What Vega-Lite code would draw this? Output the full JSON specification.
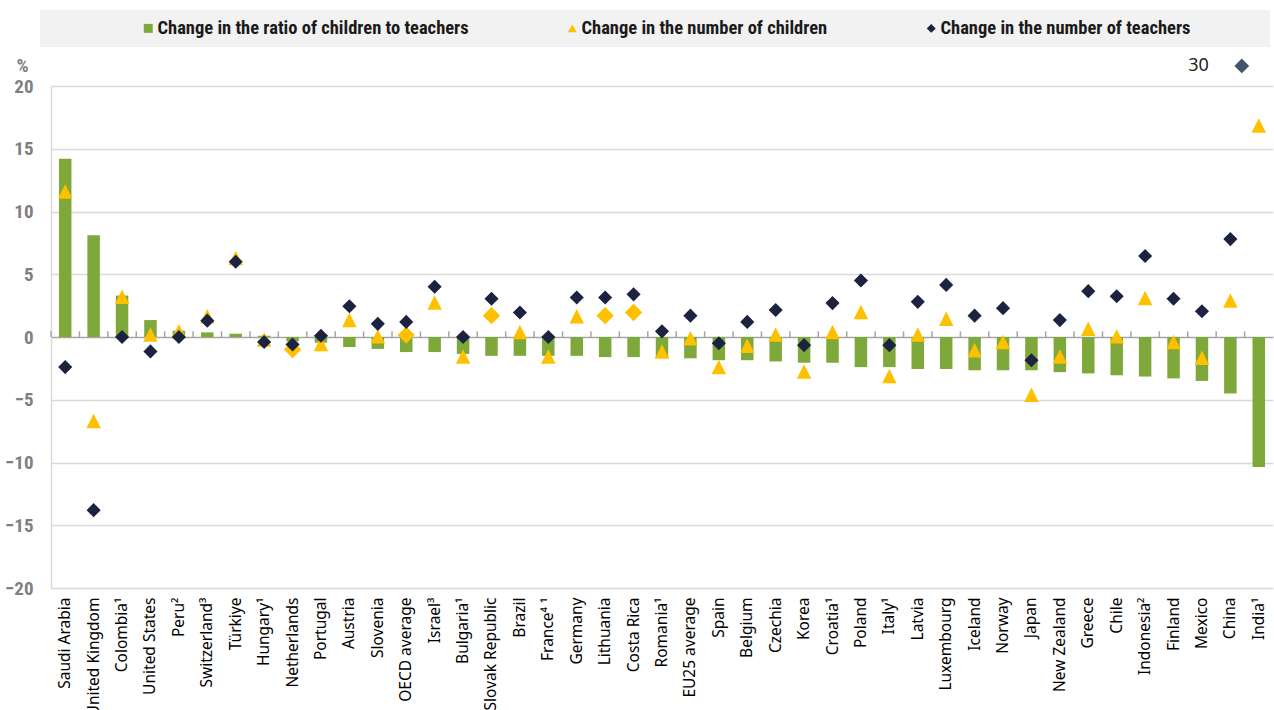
{
  "$schema": "https://vega.github.io/schema/vega-lite/v6.json",
  "width": 1222,
  "height": 502,
  "autosize": {"type": "none"},
  "padding": {"left": 51, "top": 86, "right": 1, "bottom": 122},
  "background": "white",
  "config": {
    "view": {"stroke": null},
    "axis": {"labelFont": "Noto Sans", "titleFont": "Roboto"}
  },
  "data": {
    "values": [
      {"country": "Saudi Arabia", "ratio": 14.2, "children": 11.6, "teachers": -2.4},
      {"country": "United Kingdom", "ratio": 8.1, "children": -6.7, "teachers": -13.8},
      {"country": "Colombia¹", "ratio": 3.3, "children": 3.2, "teachers": 0.0},
      {"country": "United States", "ratio": 1.35, "children": 0.2, "teachers": -1.15},
      {"country": "Peru²", "ratio": 0.5, "children": 0.45, "teachers": 0.0},
      {"country": "Switzerland³", "ratio": 0.37, "children": 1.65, "teachers": 1.3},
      {"country": "Türkiye", "ratio": 0.26, "children": 6.3, "teachers": 6.0},
      {"country": "Hungary¹", "ratio": 0.1, "children": -0.2, "teachers": -0.4},
      {"country": "Netherlands", "ratio": -0.35, "children": -1.0, "teachers": -0.6},
      {"country": "Portugal", "ratio": -0.45, "children": -0.55, "teachers": 0.1},
      {"country": "Austria", "ratio": -0.8, "children": 1.35, "teachers": 2.45},
      {"country": "Slovenia", "ratio": -0.95, "children": 0.05, "teachers": 1.05},
      {"country": "OECD average", "ratio": -1.2, "children": 0.15, "teachers": 1.2},
      {"country": "Israel³", "ratio": -1.2, "children": 2.75, "teachers": 4.0},
      {"country": "Bulgaria¹", "ratio": -1.35, "children": -1.55, "teachers": 0.0},
      {"country": "Slovak Republic", "ratio": -1.5, "children": 1.7, "teachers": 3.05},
      {"country": "Brazil", "ratio": -1.5, "children": 0.4, "teachers": 1.95},
      {"country": "France⁴ ¹", "ratio": -1.5, "children": -1.55, "teachers": 0.0},
      {"country": "Germany", "ratio": -1.5, "children": 1.65, "teachers": 3.15},
      {"country": "Lithuania", "ratio": -1.6, "children": 1.7, "teachers": 3.15},
      {"country": "Costa Rica", "ratio": -1.6, "children": 1.95, "teachers": 3.4},
      {"country": "Romania¹", "ratio": -1.65, "children": -1.15, "teachers": 0.45},
      {"country": "EU25 average", "ratio": -1.7, "children": -0.1, "teachers": 1.7},
      {"country": "Spain", "ratio": -1.85, "children": -2.4, "teachers": -0.5},
      {"country": "Belgium", "ratio": -1.85, "children": -0.7, "teachers": 1.2},
      {"country": "Czechia", "ratio": -1.95, "children": 0.2, "teachers": 2.15},
      {"country": "Korea", "ratio": -2.05, "children": -2.75, "teachers": -0.65},
      {"country": "Croatia¹", "ratio": -2.05, "children": 0.4, "teachers": 2.7},
      {"country": "Poland", "ratio": -2.4, "children": 2.0, "teachers": 4.5},
      {"country": "Italy¹", "ratio": -2.4, "children": -3.1, "teachers": -0.65},
      {"country": "Latvia", "ratio": -2.55, "children": 0.2, "teachers": 2.8},
      {"country": "Luxembourg", "ratio": -2.55, "children": 1.45, "teachers": 4.15},
      {"country": "Iceland", "ratio": -2.65, "children": -1.05, "teachers": 1.7},
      {"country": "Norway", "ratio": -2.65, "children": -0.4, "teachers": 2.3},
      {"country": "Japan", "ratio": -2.65, "children": -4.6, "teachers": -1.85},
      {"country": "New Zealand", "ratio": -2.8, "children": -1.55, "teachers": 1.35},
      {"country": "Greece", "ratio": -2.9, "children": 0.65, "teachers": 3.65},
      {"country": "Chile", "ratio": -3.05, "children": 0.05, "teachers": 3.25},
      {"country": "Indonesia²", "ratio": -3.15, "children": 3.1, "teachers": 6.45},
      {"country": "Finland", "ratio": -3.3, "children": -0.4, "teachers": 3.05},
      {"country": "Mexico", "ratio": -3.5, "children": -1.65, "teachers": 2.05},
      {"country": "China", "ratio": -4.5, "children": 2.9, "teachers": 7.8},
      {"country": "India¹", "ratio": -10.35, "children": 16.85, "teachers": 30}
    ]
  },
  "layer": [
    {
      "mark": {"type": "bar", "width": 12.5},
      "encoding": {
        "x": {
          "field": "country",
          "type": "nominal",
          "sort": null,
          "scale": {"paddingInner": 0, "paddingOuter": 0},
          "axis": {
            "title": null,
            "labelAngle": -90,
            "labelFontSize": 15.5,
            "labelColor": "#000000",
            "labelPadding": 9,
            "labelLimit": 200,
            "ticks": false,
            "domain": false,
            "grid": false
          }
        },
        "y": {
          "field": "ratio",
          "type": "quantitative",
          "scale": {"domain": [-20, 20], "nice": false, "zero": false},
          "axis": {
            "values": [-20, -15, -10, -5, 0, 5, 10, 15, 20],
            "title": "%",
            "titleAngle": 0,
            "titleX": -29,
            "titleY": -21,
            "titleAlign": "center",
            "titleBaseline": "middle",
            "titleFont": "Liberation Sans Narrow, Roboto Condensed, Roboto, sans-serif",
            "titleFontSize": 19,
            "titleFontWeight": "bold",
            "titleColor": "#7f7f7f",
            "labelFont": "Liberation Sans Narrow, Roboto Condensed, Roboto, sans-serif",
            "labelFontSize": 19,
            "labelFontWeight": "bold",
            "labelColor": "#7f7f7f",
            "labelPadding": 18,
            "ticks": false,
            "domain": true,
            "domainColor": "#d9d9d9",
            "domainWidth": 1.5,
            "grid": true,
            "gridColor": {"condition": {"test": "datum.value === 0", "value": "#a6a6a6"}, "value": "#d9d9d9"},
            "gridWidth": 1.5
          }
        },
        "color": {
          "datum": "Change in the ratio of children to teachers",
          "type": "nominal",
          "scale": {
            "domain": [
              "Change in the ratio of children to teachers",
              "Change in the number of children",
              "Change in the number of teachers"
            ],
            "range": ["#7fa83a", "#ffc000", "#1c2340"]
          },
          "legend": {
            "orient": "none",
            "legendX": -11,
            "legendY": -76,
            "direction": "horizontal",
            "fillColor": "#f2f2f2",
            "padding": 9,
            "title": "\u00a0",
            "titleOrient": "left",
            "titlePadding": 90,
            "titleFontSize": 16,
            "labelFont": "Liberation Sans Narrow, Roboto Condensed, Roboto, sans-serif",
            "labelFontSize": 18.5,
            "labelFontWeight": "bold",
            "labelColor": "#1a1a1a",
            "labelOffset": 0,
            "labelLimit": 800,
            "labelExpr": "datum.label === 'Change in the number of teachers' ? datum.label + '\u2800\u2800\u2800\u2800\u2800' : datum.label",
            "symbolSize": 80,
            "symbolStrokeWidth": 0,
            "columnPadding": 94,
            "encode": {
              "symbols": {
                "update": {
                  "shape": {"signal": "datum.value === 'Change in the ratio of children to teachers' ? 'square' : datum.value === 'Change in the number of children' ? 'triangle-up' : 'diamond'"}
                }
              }
            }
          }
        }
      }
    },
    {
      "mark": {"type": "rule", "color": "#a6a6a6", "strokeWidth": 1.5},
      "encoding": {
        "x": {"field": "country", "type": "nominal", "sort": null, "bandPosition": 0},
        "y": {"datum": 0},
        "y2": {"datum": 0.45}
      }
    },
    {
      "transform": [
        {"filter": "indexof(['Netherlands', 'OECD average', 'Slovak Republic', 'Lithuania', 'Costa Rica'], datum.country) < 0"}
      ],
      "mark": {"type": "point", "filled": true, "opacity": 1, "shape": "M0,-1L1,1L-1,1Z", "size": 210},
      "encoding": {
        "x": {"field": "country", "type": "nominal", "sort": null},
        "y": {"field": "children", "type": "quantitative"},
        "color": {"datum": "Change in the number of children", "type": "nominal"}
      }
    },
    {
      "transform": [
        {"filter": "indexof(['Netherlands', 'OECD average', 'Slovak Republic', 'Lithuania', 'Costa Rica'], datum.country) >= 0"}
      ],
      "mark": {"type": "point", "filled": true, "opacity": 1, "shape": "diamond", "size": 300},
      "encoding": {
        "x": {"field": "country", "type": "nominal", "sort": null},
        "y": {"field": "children", "type": "quantitative"},
        "color": {"datum": "Change in the number of children", "type": "nominal"}
      }
    },
    {
      "transform": [{"filter": "datum.teachers <= 20"}],
      "mark": {"type": "point", "filled": true, "opacity": 1, "shape": "diamond", "size": 200},
      "encoding": {
        "x": {"field": "country", "type": "nominal", "sort": null},
        "y": {"field": "teachers", "type": "quantitative"},
        "color": {"datum": "Change in the number of teachers", "type": "nominal"}
      }
    },
    {
      "transform": [{"filter": "datum.teachers > 20"}],
      "mark": {"type": "point", "filled": true, "opacity": 1, "shape": "diamond", "size": 220, "color": "#44546a", "xOffset": -17, "clip": false},
      "encoding": {
        "x": {"field": "country", "type": "nominal", "sort": null},
        "y": {"datum": 21.6}
      }
    },
    {
      "transform": [{"filter": "datum.teachers > 20"}],
      "mark": {"type": "text", "align": "right", "baseline": "middle", "dx": -50, "font": "Noto Sans", "fontSize": 18, "color": "#222222", "clip": false},
      "encoding": {
        "x": {"field": "country", "type": "nominal", "sort": null},
        "y": {"datum": 21.6},
        "text": {"field": "teachers", "type": "quantitative"}
      }
    }
  ]
}
